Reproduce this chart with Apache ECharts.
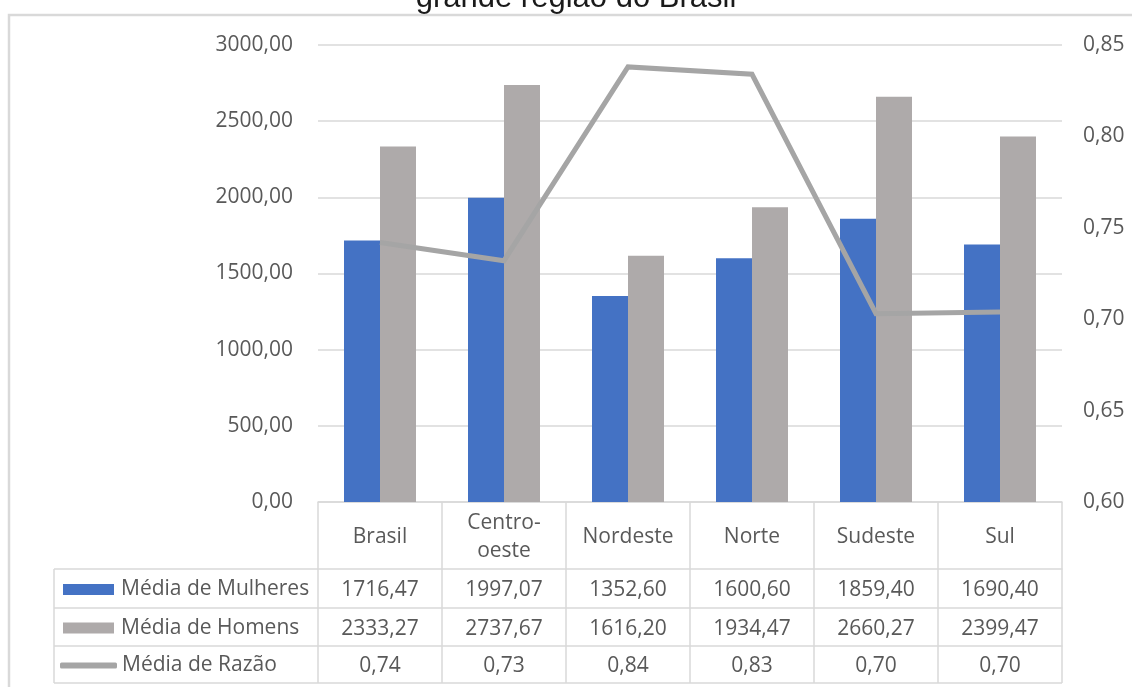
<!DOCTYPE html>
<html>
<head>
<meta charset="utf-8">
<script src="https://cdn.jsdelivr.net/npm/echarts@6/dist/echarts.min.js"></script>
<style>
html,body{margin:0;padding:0;background:#fff;}
#chart{width:1132px;height:687px;}
</style>
</head>
<body>
<div id="chart"></div>
<script>
// ---- data ----
var categories = ['Brasil', 'Centro-\noeste', 'Nordeste', 'Norte', 'Sudeste', 'Sul'];
var mulheres = [1716.47, 1997.07, 1352.60, 1600.60, 1859.40, 1690.40];
var homens = [2333.27, 2737.67, 1616.20, 1934.47, 2660.27, 2399.47];
var razao = [0.742, 0.732, 0.838, 0.834, 0.703, 0.704];
var seriesNames = ['Média de Mulheres', 'Média de Homens', 'Média de Razão'];
var titleText = 'grande região do Brasil';

function fmt(v, d) { return v.toFixed(d).replace('.', ','); }

// ---- layout ----
var font = 'Open Sans';
var txtColor = '#595959';
var lineColor = '#d9d9d9';
var gridL = 318, gridR = 1062, plotTop = 45, plotBottom = 502;
var rowOffset = [0, 67, 106, 144];
var rowHeight = [67, 39, 38, 37];
var tableLeft = 54;
var tableBottom = plotBottom + rowOffset[3] + rowHeight[3];

var rowData = [categories, mulheres.map(function(v){return fmt(v,2);}),
               homens.map(function(v){return fmt(v,2);}), razao.map(function(v){return fmt(v,2);})];

var xAxes = rowData.map(function(d, i) {
  return {
    type: 'category', position: 'bottom', gridIndex: 0, offset: rowOffset[i],
    data: d,
    axisLine: { show: true, lineStyle: { color: lineColor, width: 1.5 } },
    axisTick: { show: true, interval: 0, length: rowHeight[i], lineStyle: { color: lineColor, width: 1.5 } },
    axisLabel: { show: true, interval: 0, margin: rowHeight[i] / 2 + 2, verticalAlign: 'middle',
      color: txtColor, fontFamily: font, fontSize: 21, lineHeight: 28 },
    splitLine: { show: false }
  };
});

var chart = echarts.init(document.getElementById('chart'), null, { renderer: 'canvas' });

function legendAt(idx, left, icon, w, h) {
  var rowCenter = plotBottom + rowOffset[idx + 1] + rowHeight[idx + 1] / 2;
  return {
    data: [{ name: seriesNames[idx], icon: icon }],
    left: left, top: rowCenter - 11, padding: 0,
    itemWidth: w, itemHeight: h, selectedMode: false,
    textStyle: { color: txtColor, fontFamily: font, fontSize: 21, lineHeight: 24, padding: [0, 0, 0, idx < 2 ? 2 : 0] }
  };
}

var option = {
  animation: false,
  backgroundColor: '#fff',
  grid: { left: gridL, right: 1132 - gridR, top: plotTop, bottom: 687 - plotBottom, containLabel: false },
  legend: [
    legendAt(0, 63, 'rect', 51, 11),
    legendAt(1, 63, 'rect', 51, 11),
    legendAt(2, 60, 'roundRect', 57, 6)
  ],
  xAxis: xAxes,
  yAxis: [
    { type: 'value', min: 0, max: 3000, interval: 500,
      axisLine: { show: false }, axisTick: { show: false },
      splitLine: { show: true, lineStyle: { color: lineColor, width: 1.5 } },
      axisLabel: { margin: 25, color: txtColor, fontFamily: font, fontSize: 21,
        formatter: function(v){ return fmt(v, 2); } } },
    { type: 'value', min: 0.6, max: 0.85, interval: 0.05, position: 'right',
      axisLine: { show: false }, axisTick: { show: false }, splitLine: { show: false },
      axisLabel: { margin: 21, color: txtColor, fontFamily: font, fontSize: 21,
        formatter: function(v){ return fmt(v, 2); } } }
  ],
  series: [
    { name: seriesNames[0], type: 'bar', data: mulheres, xAxisIndex: 0, yAxisIndex: 0,
      barWidth: 36, barGap: '0%', itemStyle: { color: '#4472C4' } },
    { name: seriesNames[1], type: 'bar', data: homens, xAxisIndex: 0, yAxisIndex: 0,
      barWidth: 36, barGap: '0%', itemStyle: { color: '#AEAAAA' } },
    { name: seriesNames[2], type: 'line', data: razao, xAxisIndex: 0, yAxisIndex: 1,
      symbol: 'none', z: 5,
      lineStyle: { color: '#A5A5A5', width: 5, join: 'miter' }, itemStyle: { color: '#A5A5A5' } }
  ],
  graphic: []
};

// table decoration for the row-label column and outer frame
var g = [];
g.push({ type: 'rect', shape: { x: 9, y: 15, width: 1200, height: 800 }, silent: true, z: -1,
  style: { fill: null, stroke: lineColor, lineWidth: 2.5 } });
g.push({ type: 'text', silent: true, style: { text: titleText, x: 576, y: 14, textAlign: 'center',
  textVerticalAlign: 'bottom', verticalAlign: 'bottom', align: 'center',
  font: '31px "Liberation Sans", Arial, sans-serif', fill: '#1a1a1a' } });
for (var i = 1; i <= 4; i++) {
  var y = plotBottom + (i < 4 ? rowOffset[i] : tableBottom - plotBottom);
  g.push({ type: 'line', silent: true, shape: { x1: tableLeft, y1: y, x2: i < 4 ? gridL : gridR, y2: y },
    style: { stroke: lineColor, lineWidth: 1.5 } });
}
g.push({ type: 'line', silent: true, shape: { x1: tableLeft, y1: plotBottom + rowOffset[1], x2: tableLeft, y2: tableBottom },
  style: { stroke: lineColor, lineWidth: 1.5 } });
option.graphic = g;

chart.setOption(option);
</script>
</body>
</html>
